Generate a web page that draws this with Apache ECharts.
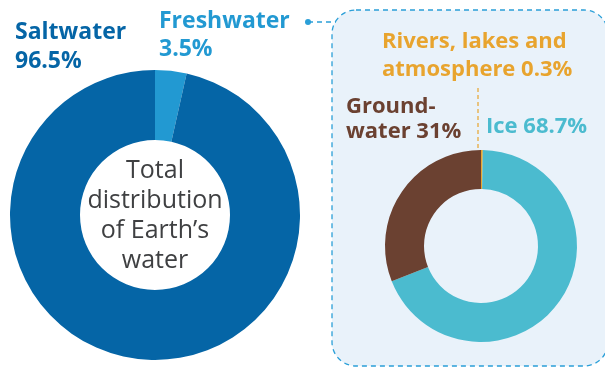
<!DOCTYPE html>
<html>
<head>
<meta charset="utf-8">
<script src="https://cdn.jsdelivr.net/npm/echarts@6/dist/echarts.min.js"></script>
<style>
  html, body { margin: 0; padding: 0; background: #ffffff; }
  #chart { width: 605px; height: 368px; }
</style>
</head>
<body>
<div id="chart"></div>
<script>
// Total water split
const totalNames = ['Freshwater', 'Saltwater'];
const totalValues = [3.5, 96.5];
const totalColors = ['#2299d2', '#0565a6'];

// Freshwater split
const freshNames = ['Rivers, lakes and atmosphere', 'Ice', 'Groundwater'];
const freshValues = [0.3, 68.7, 31];
const freshColors = ['#e8a42e', '#4bbbcf', '#6b4131'];

const centerTitle = ['Total', 'distribution', 'of Earth\u2019s', 'water'];

const FONT = '"Open Sans", Lato, sans-serif';

function pct(v) { return v + '%'; }

const chart = echarts.init(document.getElementById('chart'), null, { renderer: 'canvas' });

function labelText(x, y, lines, color, size, lh) {
  return {
    type: 'text', left: x, top: y, z: 10,
    style: {
      text: lines.join('\n'),
      fill: color,
      font: 'bold ' + size + 'px ' + FONT,
      lineHeight: lh,
      textAlign: 'left',
      textVerticalAlign: 'top'
    }
  };
}

const option = {
  backgroundColor: '#ffffff',
  animation: false,
  graphic: [
    // Freshwater panel
    {
      type: 'rect', z: 0,
      shape: { x: 332, y: 10, width: 276, height: 356, r: 24 },
      style: { fill: '#e9f2fa', stroke: '#2a9fd8', lineWidth: 1.3, lineDash: [5, 4] }
    },
    // connector from Freshwater label to panel
    {
      type: 'line', z: 1,
      shape: { x1: 308, y1: 22, x2: 336, y2: 22 },
      style: { stroke: '#2a9fd8', lineWidth: 1.3, lineDash: [5, 4] }
    },
    {
      type: 'circle', z: 2,
      shape: { cx: 308, cy: 22, r: 3 },
      style: { fill: '#2a9fd8' }
    },
    // leader for the thin rivers slice
    {
      type: 'line', z: 1,
      shape: { x1: 478, y1: 88, x2: 478, y2: 151 },
      style: { stroke: '#e8a42e', lineWidth: 1.2, lineDash: [4, 3] }
    },
    labelText(15, 18, [totalNames[1], pct(totalValues[1])], totalColors[1], 23, 29),
    labelText(159, 7, [totalNames[0], pct(totalValues[0])], totalColors[0], 23, 28),
    labelText(382, 28, ['Rivers, lakes and', 'atmosphere ' + pct(freshValues[0])], freshColors[0], 22, 28),
    labelText(346, 94, ['Ground-', 'water ' + pct(freshValues[2])], freshColors[2], 22, 25),
    labelText(486, 114, [freshNames[1] + ' ' + pct(freshValues[1])], freshColors[1], 22, 25),
    {
      type: 'text', z: 10,
      x: 155, y: 216,
      style: {
        text: centerTitle.join('\n'),
        fill: '#3f4042',
        font: '25px ' + FONT,
        lineHeight: 30,
        textAlign: 'center',
        textVerticalAlign: 'middle'
      }
    }
  ],
  series: [
    {
      type: 'pie',
      center: [155, 215],
      radius: [75, 145],
      startAngle: 90,
      clockwise: true,
      silent: true,
      label: { show: false },
      labelLine: { show: false },
      itemStyle: { borderWidth: 0 },
      data: totalNames.map((n, i) => ({ name: n, value: totalValues[i], itemStyle: { color: totalColors[i] } }))
    },
    {
      type: 'pie',
      center: [481, 246],
      radius: [57, 96],
      startAngle: 90,
      clockwise: true,
      silent: true,
      minAngle: 0,
      label: { show: false },
      labelLine: { show: false },
      itemStyle: { borderWidth: 0 },
      data: freshNames.map((n, i) => ({ name: n, value: freshValues[i], itemStyle: { color: freshColors[i] } }))
    }
  ]
};

chart.setOption(option);
</script>
</body>
</html>
